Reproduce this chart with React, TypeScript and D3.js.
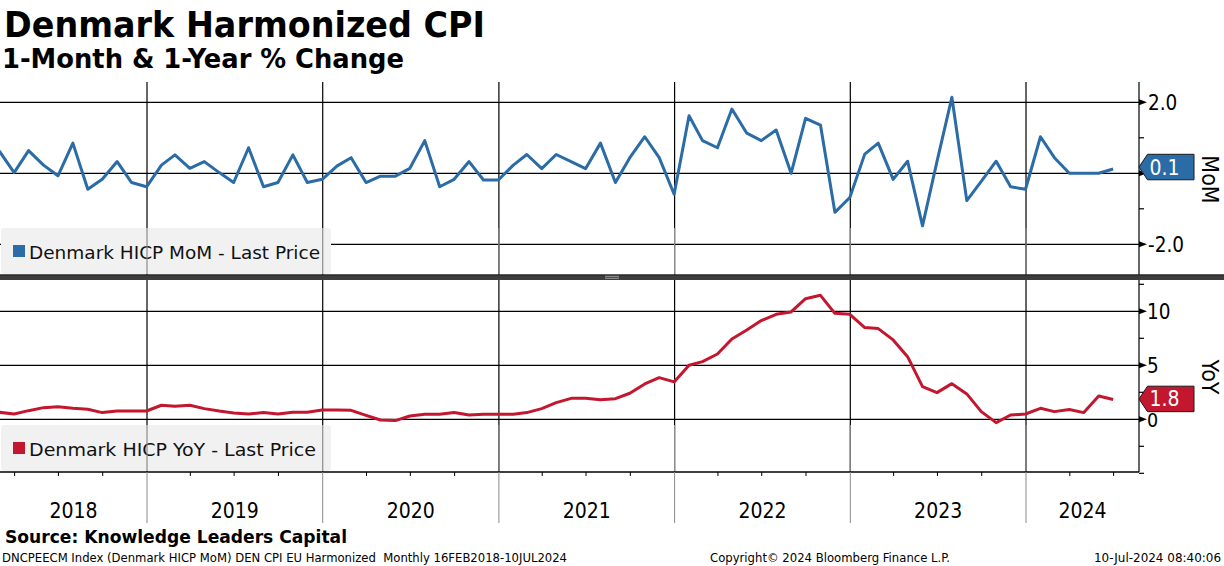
import React from 'react';
import * as d3 from 'd3';

// ---------- DATA ----------
const firstMonth = { year: 2018, month: 1 }; // Feb 2018 (0-based month)
const momValues = [
  0.63, 0.02, 0.64, 0.23, -0.07, 0.85, -0.45, -0.17, 0.33, -0.26, -0.38,
  0.23, 0.52, 0.14, 0.33, 0.02, -0.26, 0.72, -0.38, -0.26, 0.52, -0.26, -0.17,
  0.21, 0.44, -0.26, -0.08, -0.08, 0.14, 0.92, -0.38, -0.17, 0.33, -0.19, -0.19,
  0.23, 0.53, 0.13, 0.53, 0.33, 0.13, 0.85, -0.26, 0.44, 1.03, 0.44, -0.59,
  1.62, 0.92, 0.72, 1.81, 1.13, 0.92, 1.22, 0.0, 1.55, 1.36, -1.1, -0.68,
  0.54, 0.85, -0.17, 0.34, -1.48, 0.33, 2.14, -0.77, -0.23, 0.34, -0.38, -0.45,
  1.03, 0.44, 0.0, 0.0, 0.0, 0.12,
];
const yoyValues = [
  0.65, 0.49, 0.8, 1.08, 1.17, 1.02, 0.93, 0.62, 0.77, 0.77, 0.77,
  1.3, 1.2, 1.3, 0.99, 0.77, 0.59, 0.49, 0.62, 0.49, 0.65, 0.65, 0.86,
  0.86, 0.83, 0.37, -0.06, -0.12, 0.31, 0.46, 0.46, 0.62, 0.4, 0.46, 0.46,
  0.46, 0.62, 0.99, 1.54, 1.94, 1.94, 1.82, 1.91, 2.41, 3.27, 3.86, 3.46,
  5.0, 5.34, 6.05, 7.44, 8.27, 9.14, 9.72, 9.94, 11.17, 11.48, 9.81, 9.72,
  8.49, 8.4, 7.35, 5.8, 3.02, 2.47, 3.3, 2.35, 0.71, -0.31, 0.4, 0.49,
  1.02, 0.71, 0.9, 0.62, 2.15, 1.84,
];
const yearLabels = ['2018', '2019', '2020', '2021', '2022', '2023', '2024'];
const momMajorTicks = [-2, 0, 2];
const momMinorTicks = [-1, 1];
const yoyMajorTicks = [0, 5, 10];
const yoyMinorTicks = [-5, -2.5, 2.5, 7.5, 12.5];

const title = 'Denmark Harmonized CPI';
const subtitle = '1-Month & 1-Year % Change';
const momLegend = 'Denmark HICP MoM - Last Price';
const yoyLegend = 'Denmark HICP YoY - Last Price';
const momAxisTitle = 'MoM';
const yoyAxisTitle = 'YoY';
const sourceText = 'Source: Knowledge Leaders Capital';
const footerLeft = 'DNCPEECM Index (Denmark HICP MoM) DEN CPI EU Harmonized  Monthly 16FEB2018-10JUL2024';
const footerMid = 'Copyright\u00A9 2024 Bloomberg Finance L.P.';
const footerRight = '10-Jul-2024 08:40:06';

// ---------- STYLE ----------
const FONT = "'DejaVu Sans Condensed', 'DejaVu Sans', sans-serif";
const BLUE = '#2b6ba6';
const RED = '#c2172f';
const W = 1224;
const H = 566;
const plotLeft = 0;
const plotRight = 1139;
const topPanel = { top: 82, bottom: 275 };
const botPanel = { top: 280, bottom: 472 };

const dates = momValues.map((_, i) => new Date(firstMonth.year, firstMonth.month + i + 1, 0));

const x = d3
  .scaleTime()
  .domain([new Date(2018, 0, 1), new Date(2025, 0, 1)])
  .range([-28.7, 1202.2]);
const yTop = d3.scaleLinear().domain([-2, 2]).range([244.3, 102.3]);
const yBot = d3.scaleLinear().domain([0, 10]).range([419.3, 311.3]);

const yearStarts = d3.timeYear.range(new Date(2018, 0, 1), new Date(2025, 0, 2));
const gridYears = yearStarts.filter((d) => x(d) > plotLeft && x(d) < plotRight);
const quarterTicks = d3
  .timeMonth.every(3)!
  .range(new Date(2018, 0, 1), new Date(2025, 0, 1))
  .filter((d) => d.getMonth() !== 0 && x(d) > plotLeft && x(d) < plotRight);

const fmt1 = d3.format('.1f');
const fmt = (v: number) => fmt1(v).replace('\u2212', '-');

function ValueTag({ y, value, color }: { y: number; value: number; color: string }) {
  const h = 25.5;
  const tipX = plotRight;
  const bodyX = plotRight + 8.5;
  const right = 1194;
  const pts = [
    [tipX, y],
    [bodyX, y - h / 2],
    [right, y - h / 2],
    [right, y + h / 2],
    [bodyX, y + h / 2],
  ]
    .map((p) => p.join(','))
    .join(' ');
  return (
    <g>
      <polygon points={pts} fill={color} stroke="#1a1a1a" strokeWidth={1} />
      <text x={bodyX + 2} y={y} dy="0.36em" fill="#fff" fontFamily={FONT} fontSize={21}>
        {fmt(value)}
      </text>
    </g>
  );
}

function Legend({ y0, label, color, textLen }: { y0: number; label: string; color: string; textLen: number }) {
  return (
    <g>
      <rect x={1} y={y0} width={330} height={46} rx={3} fill="#f1f1f1" />
      <rect x={13} y={y0 + 17} width={12} height={12} fill={color} />
      <text
        x={29}
        y={y0 + 31}
        fontFamily={FONT}
        fontSize={18.5}
        fill="#111"
        textLength={textLen}
        lengthAdjust="spacingAndGlyphs"
      >
        {label}
      </text>
    </g>
  );
}

function Arrow({ y }: { y: number }) {
  return <polygon points={`${plotRight},${y - 3} ${plotRight + 8},${y} ${plotRight},${y + 3}`} fill="#000" />;
}

export default function App() {
  const momLine = d3
    .line<number>()
    .x((_, i) => x(dates[i]))
    .y((d) => yTop(d));
  const yoyLine = d3
    .line<number>()
    .x((_, i) => x(dates[i]))
    .y((d) => yBot(d));

  const topLegendY = 228;
  const botLegendY = 425;

  return (
    <svg
      width={W}
      height={H}
      viewBox={`0 0 ${W} ${H}`}
      style={{ position: 'absolute', left: 0, top: 0, background: '#fff' }}
    >
      <defs>
        <clipPath id="clipTop">
          <rect x={plotLeft} y={topPanel.top} width={plotRight - plotLeft} height={topPanel.bottom - topPanel.top} />
        </clipPath>
        <clipPath id="clipBot">
          <rect x={plotLeft} y={botPanel.top} width={plotRight - plotLeft} height={botPanel.bottom - botPanel.top} />
        </clipPath>
      </defs>
      <rect x={0} y={0} width={W} height={H} fill="#fff" />

      {/* Titles */}
      <text x={4} y={36.5} fontFamily={FONT} fontWeight="bold" fontSize={36} fill="#000" textLength={481} lengthAdjust="spacingAndGlyphs">
        {title}
      </text>
      <text x={2} y={68.3} fontFamily={FONT} fontWeight="bold" fontSize={27} fill="#000" textLength={402} lengthAdjust="spacingAndGlyphs">
        {subtitle}
      </text>

      {/* ---------- TOP PANEL ---------- */}
      {momMajorTicks.map((t) => (
        <line key={`tg${t}`} x1={plotLeft} x2={plotRight} y1={yTop(t)} y2={yTop(t)} stroke="#000" strokeWidth={1.2} />
      ))}
      {gridYears.map((d) => (
        <line key={`tv${+d}`} x1={x(d)} x2={x(d)} y1={topPanel.top} y2={topPanel.bottom} stroke="#000" strokeWidth={1.2} />
      ))}
      <Legend y0={topLegendY} label={momLegend} color={BLUE} textLen={291} />
      {gridYears.map((d) => (
        <line key={`tvl${+d}`} x1={x(d)} x2={x(d)} y1={topLegendY} y2={topLegendY + 46} stroke="#8c8c8c" strokeWidth={1.2} />
      ))}
      <g clipPath="url(#clipTop)">
        <path d={momLine(momValues) || ''} fill="none" stroke={BLUE} strokeWidth={3} strokeLinejoin="round" />
      </g>
      {/* right axis */}
      <line x1={plotRight} x2={plotRight} y1={topPanel.top} y2={topPanel.bottom} stroke="#000" strokeWidth={1.2} />
      {momMajorTicks.filter((t) => t !== 0).map((t) => (
        <g key={`ta${t}`}>
          <Arrow y={yTop(t)} />
          <text x={1148} y={yTop(t)} dy="0.36em" fontFamily={FONT} fontSize={20.5} fill="#000">
            {fmt(t)}
          </text>
        </g>
      ))}
      <Arrow y={yTop(0)} />
      {momMinorTicks.map((t) => (
        <line key={`tm${t}`} x1={plotRight} x2={plotRight + 5} y1={yTop(t)} y2={yTop(t)} stroke="#000" strokeWidth={1.2} />
      ))}
      <ValueTag y={yTop(momValues[momValues.length - 1]) - 2} value={momValues[momValues.length - 1]} color={BLUE} />
      <text
        transform={`translate(1202, 179.5) rotate(90)`}
        textAnchor="middle"
        fontFamily={FONT}
        fontSize={23}
        fill="#000"
      >
        {momAxisTitle}
      </text>

      {/* ---------- DIVIDER ---------- */}
      <rect x={0} y={274.5} width={W} height={5.5} fill="#3d3d3d" />
      <rect x={0} y={274.5} width={W} height={1} fill="#1e1e1e" />
      <line x1={605} x2={619} y1={276.3} y2={276.3} stroke="#a8a8a8" strokeWidth={0.9} />
      <line x1={605} x2={619} y1={278.3} y2={278.3} stroke="#a8a8a8" strokeWidth={0.9} />

      {/* ---------- BOTTOM PANEL ---------- */}
      {yoyMajorTicks.map((t) => (
        <line key={`bg${t}`} x1={plotLeft} x2={plotRight} y1={yBot(t)} y2={yBot(t)} stroke="#000" strokeWidth={1.2} />
      ))}
      {gridYears.map((d) => (
        <line key={`bv${+d}`} x1={x(d)} x2={x(d)} y1={botPanel.top} y2={botPanel.bottom} stroke="#000" strokeWidth={1.2} />
      ))}
      <Legend y0={botLegendY} label={yoyLegend} color={RED} textLen={287} />
      {gridYears.map((d) => (
        <line key={`bvl${+d}`} x1={x(d)} x2={x(d)} y1={botLegendY} y2={botPanel.bottom} stroke="#8c8c8c" strokeWidth={1.2} />
      ))}
      <g clipPath="url(#clipBot)">
        <path d={yoyLine(yoyValues) || ''} fill="none" stroke={RED} strokeWidth={3} strokeLinejoin="round" />
      </g>
      <line x1={plotRight} x2={plotRight} y1={botPanel.top} y2={botPanel.bottom} stroke="#000" strokeWidth={1.2} />
      {yoyMajorTicks.map((t) => (
        <g key={`ba${t}`}>
          <Arrow y={yBot(t)} />
          <text x={1147} y={yBot(t)} dy={t === 0 ? '0.42em' : '0.36em'} fontFamily={FONT} fontSize={t === 0 ? 19.5 : 20.5} fill="#000">
            {t}
          </text>
        </g>
      ))}
      {yoyMinorTicks.map((t) => (
        <line key={`bm${t}`} x1={plotRight} x2={plotRight + 5} y1={yBot(t)} y2={yBot(t)} stroke="#000" strokeWidth={1.2} />
      ))}
      <ValueTag y={yBot(yoyValues[yoyValues.length - 1]) - 0.5} value={yoyValues[yoyValues.length - 1]} color={RED} />
      <text
        transform={`translate(1202, 377) rotate(90)`}
        textAnchor="middle"
        fontFamily={FONT}
        fontSize={23}
        fill="#000"
      >
        {yoyAxisTitle}
      </text>

      {/* ---------- X AXIS ---------- */}
      <line x1={plotLeft} x2={plotRight} y1={botPanel.bottom} y2={botPanel.bottom} stroke="#000" strokeWidth={1.3} />
      {quarterTicks.map((d) => (
        <line key={`q${+d}`} x1={x(d)} x2={x(d)} y1={botPanel.bottom} y2={botPanel.bottom + 4} stroke="#000" strokeWidth={1} />
      ))}
      {gridYears.map((d) => (
        <line key={`ys${+d}`} x1={x(d)} x2={x(d)} y1={botPanel.bottom} y2={523} stroke="#8a8a8a" strokeWidth={1} />
      ))}
      {yearStarts.slice(0, yearLabels.length).map((d, i) => {
        const a = Math.max(plotLeft, x(d));
        const b = Math.min(plotRight, x(d3.timeYear.offset(d, 1)));
        return (
          <text key={`yl${i}`} x={(a + b) / 2} y={518} textAnchor="middle" fontFamily={FONT} fontSize={21} fill="#000">
            {yearLabels[i]}
          </text>
        );
      })}

      {/* ---------- FOOTER ---------- */}
      <text x={5} y={543} fontFamily={FONT} fontWeight="bold" fontSize={18} fill="#000" textLength={342} lengthAdjust="spacingAndGlyphs">
        {sourceText}
      </text>
      <text x={2} y={561.5} fontFamily={FONT} fontSize={12.5} fill="#000" textLength={565} lengthAdjust="spacingAndGlyphs" style={{ whiteSpace: 'pre' }}>
        {footerLeft}
      </text>
      <text x={710} y={561.5} fontFamily={FONT} fontSize={12.5} fill="#000" textLength={240} lengthAdjust="spacingAndGlyphs">
        {footerMid}
      </text>
      <text x={1221} y={561.5} textAnchor="end" fontFamily={FONT} fontSize={12.5} fill="#000" textLength={127} lengthAdjust="spacingAndGlyphs">
        {footerRight}
      </text>
    </svg>
  );
}
